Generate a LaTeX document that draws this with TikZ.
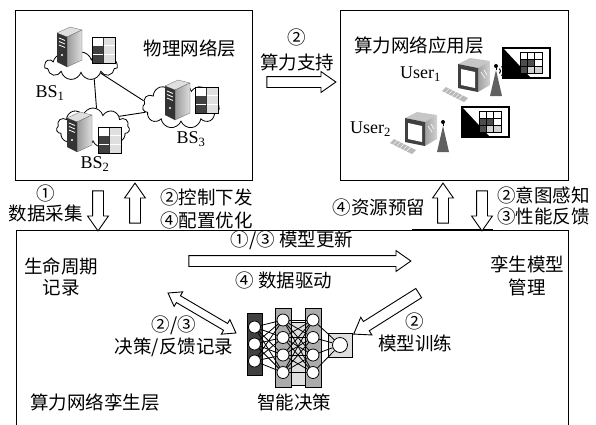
\documentclass[tikz,border=0pt]{standalone}
\usepackage{fontspec}
\setmainfont{Liberation Serif}
\newfontfamily\cjk{Noto Sans CJK SC}
\usetikzlibrary{shapes.symbols,shapes.arrows,calc}

\tikzset{
  layerbox/.style={draw, line width=1pt},
  lbl/.style={font=\cjk\fontsize{18.5}{23}\selectfont, inner sep=0pt, align=center},
  en/.style={font=\fontsize{18}{20}\selectfont, inner sep=0pt},
  bscloud/.style={cloud, draw, fill=white, cloud puffs=11, cloud ignores aspect, inner sep=0pt, line width=0.8pt},
  fatarrow/.style={single arrow, draw, fill=white, line width=0.9pt, inner xsep=0pt, inner ysep=5pt,
    minimum width=0pt, single arrow head extend=5pt, single arrow tip angle=70},
  twoway/.style={double arrow, draw, fill=white, line width=0.9pt, inner xsep=0pt, inner ysep=3.5pt,
    minimum width=0pt, double arrow head extend=4.5pt, double arrow tip angle=70},
  neuron/.style={circle, draw, fill=white, line width=0.8pt, minimum size=12pt, inner sep=0pt},
  % base station server
  server/.pic={
    \filldraw[gray!25, draw=black!60, line width=0.3pt] (0,6) -- (13,0) -- (25,3) -- (10,10) -- cycle;
    \shadedraw[left color=gray!80, right color=gray!25, draw=black!60, line width=0.3pt]
      (10,10) -- (25,3) -- (25,33) -- (10,40) -- cycle;
    \fill[black!80] (0,6) -- (10,10) -- (10,40) -- (0,35) -- cycle;
    \foreach \k in {11,14.5,18} \draw[white, line width=0.8pt] (2,\k) -- (8,\k+2.5);
    \fill[white] (5,28) circle (1.2);
  },
  % resource table
  bsgrid/.pic={
    \fill[white] (0,0) rectangle (11.5,8.7);
    \fill[black!75] (0,8.7) rectangle (11.5,26);
    \fill[gray!25] (11.5,0) rectangle (23,26);
    \draw[white, line width=0.7pt] (0,8.7) -- (23,8.7) (0,17.3) -- (23,17.3);
    \draw[black!80, line width=0.7pt] (11.5,0) -- (11.5,26);
    \draw[black, line width=1pt] (0,0) rectangle (23,26);
  },
  crt/.pic={
    \fill[gray!45] (0,6) -- (12,0) -- (32,3) -- (20,10) -- cycle;
    \shade[left color=gray!75, right color=gray!35] (20,10) -- (32,3) -- (32,27) -- (20,34) -- cycle;
    \fill[black!75] (0,6) -- (20,10) -- (20,34) -- (0,30) -- cycle;
    \fill[white] (3,11) -- (17,14) -- (17,30) -- (3,27) -- cycle;
    \draw[white, line width=0.6pt] (23,14) -- (27,20) (26,12) -- (29,17);
  },
  keyboard/.pic={
    \fill[gray!55] (0,4) -- (4,0) -- (26,11) -- (22,15) -- cycle;
    \foreach \t in {0.15,0.3,...,0.9}
      \draw[white, line width=0.4pt] ($(0,4)!\t!(22,15)$) -- ($(4,0)!\t!(26,11)$);
  },
  tower/.pic={
    \fill[gray!75!black] (0,32) -- (6,6) -- (12,32) -- cycle;
    \draw[line width=0.8pt] (6,6) -- (6,2);
    \fill (6,2) circle (2);
  },
  panel/.pic={
    \filldraw[fill=white, line width=1.6pt] (0,0) rectangle (47,30);
    \fill[black] (0,0) -- (0,30) -- (28,30) -- cycle;
    \fill[white] (17,4) rectangle (39,25);
    \fill[black!70] (17,11) rectangle (31.7,18) (17,18) rectangle (24.3,25);
    \fill[gray!35] (24.3,18) rectangle (39,25);
    \draw[line width=0.8pt] (24.3,4) -- (24.3,25) (31.7,4) -- (31.7,25)
      (17,11) -- (39,11) (17,18) -- (39,18);
    \draw[line width=1pt] (17,4) rectangle (39,25);
  },
}

\newcommand\hollow[3]{%
  \path let \p1=($(#3)-(#2)$), \n1={veclen(\x1,\y1)} in
    (#2) -- (#3) node[#1, midway, sloped, allow upside down, minimum height=\n1] {};}

\begin{document}
\begin{tikzpicture}[x=1pt,y=-1pt]
\useasboundingbox (0,0) rectangle (596,424);

% three layers
\draw[layerbox] (15,10) rectangle (252,180);
\draw[layerbox] (340,10) rectangle (568,180);
\draw[layerbox] (16,440) -- (16,230) -- (568,230) -- (568,440);
\draw[line width=2pt] (412,230) -- (493,230);

% physical network
\node[bscloud, minimum width=73pt, minimum height=28pt] (c1) at (81,66) {};
\node[bscloud, minimum width=73pt, minimum height=40pt] (c2) at (93,128) {};
\node[bscloud, minimum width=77pt, minimum height=45pt] (c3) at (181,106) {};
\draw[line width=0.9pt] (c1.-45) -- (c2.80);
\draw[line width=0.9pt] (c1.-20) -- (c3.172);
\draw[line width=0.9pt] (c2.24) -- (c3.190);
\pic at (57,27) {server};
\pic at (92,37) {bsgrid};
\pic at (67,112) {server};
\pic at (98,127) {bsgrid};
\pic at (165,80) {server};
\pic at (195,87) {bsgrid};
\node[en] (bs1) at (50,93) {BS\textsubscript{1}};
\node[en] (bs2) at (95,164) {BS\textsubscript{2}};
\node[en] (bs3) at (191,139) {BS\textsubscript{3}};
\node[lbl] (phy) at (190,48) {物理网络层};

% application layer
\node[lbl] (app) at (419,45) {算力网络应用层};
\pic at (458,58) {crt};
\pic at (442,87) {keyboard};
\pic at (490,64) {tower};
\pic at (503,48) {panel};
\foreach \r in {3.5,6.5,9.5}
  \draw[line width=1pt] (497,71) ++(-45:\r) arc (-45:45:\r);
\node[en, anchor=west] (u1) at (400,74) {User\textsubscript{1}};
\pic at (405,112) {crt};
\pic at (390,139) {keyboard};
\pic at (437,120) {tower};
\pic at (462,107) {panel};
\node[en, anchor=west] (u2) at (350,129) {User\textsubscript{2}};

% twin layer: neural network
\filldraw[fill=black!75, line width=0.8pt] (247,313) rectangle (262,375);
\filldraw[fill=gray!65, line width=0.8pt] (275,308) rectangle (291,387);
\filldraw[fill=gray!25, line width=0.8pt] (291,322) rectangle (305,385);
\filldraw[fill=gray!65, line width=0.8pt] (305,308) rectangle (321,387);
\filldraw[fill=gray!25, line width=0.8pt] (328,333) rectangle (352,357);
\foreach \i/\y in {1/327,2/344,3/361}
  \node[neuron] (p\i) at (254.5,\y) {};
\foreach \i/\y in {1/320,2/337.5,3/355,4/372.5} {
  \node[neuron] (q\i) at (283,\y) {};
  \node[neuron] (r\i) at (313,\y) {};
}
\node[neuron, minimum size=15pt] (out) at (340,345) {};
\foreach \i in {1,2,3} \foreach \j in {1,...,4} \draw[line width=0.8pt] (p\i) -- (q\j);
\foreach \i in {1,...,4} \foreach \j in {1,...,4} \draw[line width=0.8pt] (q\i) -- (r\j);
\foreach \i in {1,...,4} \draw[line width=0.8pt] (r\i) -- (out);

% arrows
\coordinate (sup1) at (263,82);   \coordinate (sup2) at (332,82);
\coordinate (dc1) at (98,187);    \coordinate (dc2) at (98,227);
\coordinate (cc1) at (135,227);   \coordinate (cc2) at (135,187);
\coordinate (rs1) at (443,227);   \coordinate (rs2) at (443,187);
\coordinate (ip1) at (482,187);   \coordinate (ip2) at (482,227);
\coordinate (mu1) at (185,261);   \coordinate (mu2) at (407,261);
\coordinate (dr1) at (168,293);   \coordinate (dr2) at (236,333);
\coordinate (mt1) at (422,291);   \coordinate (mt2) at (357,332);
\hollow{fatarrow}{sup1}{sup2}
\hollow{fatarrow}{dc1}{dc2}
\hollow{fatarrow}{cc1}{cc2}
\hollow{fatarrow}{rs1}{rs2}
\hollow{fatarrow}{ip1}{ip2}
\hollow{fatarrow}{mu1}{mu2}
\hollow{twoway}{dr1}{dr2}
\hollow{fatarrow}{mt1}{mt2}

% labels
\node[lbl, font=\cjk\fontsize{18.5}{25}\selectfont] (sup) at (297,50) {②\\算力支持};
\node[lbl, font=\cjk\fontsize{18.5}{20}\selectfont] (dc) at (46,203) {①\\数据采集};
\node[lbl, align=left, anchor=west, font=\cjk\fontsize{18.5}{23}\selectfont] (cc) at (160,208.5) {②控制下发\\④配置优化};
\node[lbl] (rs) at (379,207) {④资源预留};
\node[lbl, align=left, anchor=west, font=\cjk\fontsize{18.5}{21}\selectfont] (ip) at (497,206) {②意图感知\\③性能反馈};
\node[lbl, font=\cjk\fontsize{18.5}{21}\selectfont] (life) at (61,277) {生命周期\\记录};
\node[lbl] (mu) at (292,240) {①/③ 模型更新};
\node[lbl] (dd) at (284,280) {④ 数据驱动};
\node[lbl, font=\cjk\fontsize{18.5}{23}\selectfont] (tm) at (527,276) {孪生模型\\管理};
\node[lbl, font=\cjk\fontsize{18.5}{22}\selectfont] (dr) at (174,336) {②/③\\决策/反馈记录};
\node[lbl, font=\cjk\fontsize{18.5}{22}\selectfont] (mt) at (415,332) {②\\模型训练};
\node[lbl] (twin) at (95,402) {算力网络孪生层};
\node[lbl] (dec) at (294,402) {智能决策};
\end{tikzpicture}
\end{document}
